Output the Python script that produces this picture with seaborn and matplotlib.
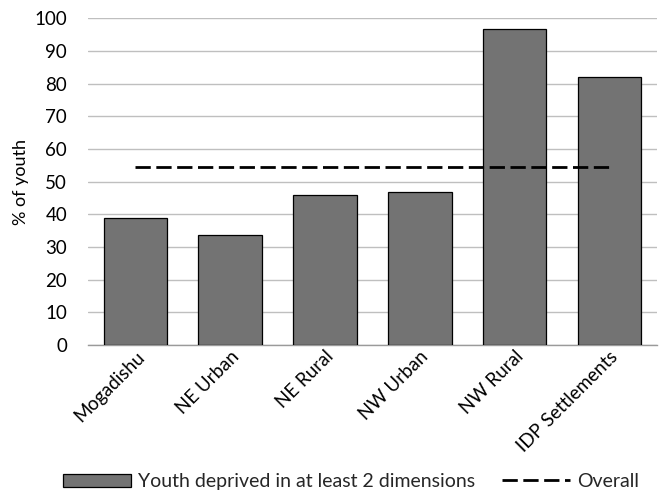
import numpy as np
import pandas as pd
import matplotlib
matplotlib.use("Agg")
import matplotlib.pyplot as plt
import seaborn as sns
from matplotlib.patches import Patch
from matplotlib.lines import Line2D

regions = ["Mogadishu", "NE Urban", "NE Rural", "NW Urban", "NW Rural", "IDP Settlements"]
deprived = [38.8, 33.6, 46.0, 46.9, 96.6, 81.9]
overall = 54.6

df = pd.DataFrame({"region": regions, "deprived": deprived})

sns.set_style("white")
plt.rcParams["font.family"] = ["Lato", "DejaVu Sans"]

fig, ax = plt.subplots(figsize=(6.62, 4.93), dpi=100)
fig.subplots_adjust(left=0.133, right=0.992, top=0.963, bottom=0.30)

sns.barplot(data=df, x="region", y="deprived", color="#737373", width=0.67,
            edgecolor="black", linewidth=0.9, saturation=1, ax=ax, zorder=3)

ax.plot(range(len(regions)), [overall] * len(regions), color="black",
        linewidth=2.0, dashes=(5.5, 2.0), zorder=4)

ax.set_ylim(0, 100)
ax.set_xlim(-0.5, len(regions) - 0.5)
ax.set_yticks(np.arange(0, 101, 10))
ax.yaxis.grid(True, color="#bfbfbf", linewidth=1.0, zorder=0)
ax.set_axisbelow(True)

for s in ["top", "right", "left"]:
    ax.spines[s].set_visible(False)
ax.spines["bottom"].set_color("#9a9a9a")
ax.spines["bottom"].set_linewidth(1.0)

ax.set_xticks(np.arange(-0.5, len(regions), 1.0), minor=True)
ax.tick_params(axis="x", which="minor", length=5, color="#9a9a9a", width=1.0)
ax.tick_params(axis="x", which="major", length=0, labelsize=13.5, pad=2,
               labelcolor="black")
ax.tick_params(axis="y", length=0, labelsize=13.5, pad=15, labelcolor="black")
ax.set_xticklabels(regions, rotation=45, ha="right", rotation_mode="anchor")

ax.set_xlabel("")
ax.set_ylabel("% of youth", fontsize=13, labelpad=4, color="black")

handles = [Patch(facecolor="#737373", edgecolor="black", linewidth=0.9),
           Line2D([0], [0], color="black", linewidth=2.0, dashes=(5.5, 2.0))]
fig.legend(handles, ["Youth deprived in at least 2 dimensions", "Overall"],
           loc="lower center", bbox_to_anchor=(0.53, -0.03), ncol=2, frameon=False,
           fontsize=14, handlelength=3.5, handleheight=0.7, columnspacing=1.4,
           handletextpad=0.35)

fig.savefig("out.png", dpi=100)
